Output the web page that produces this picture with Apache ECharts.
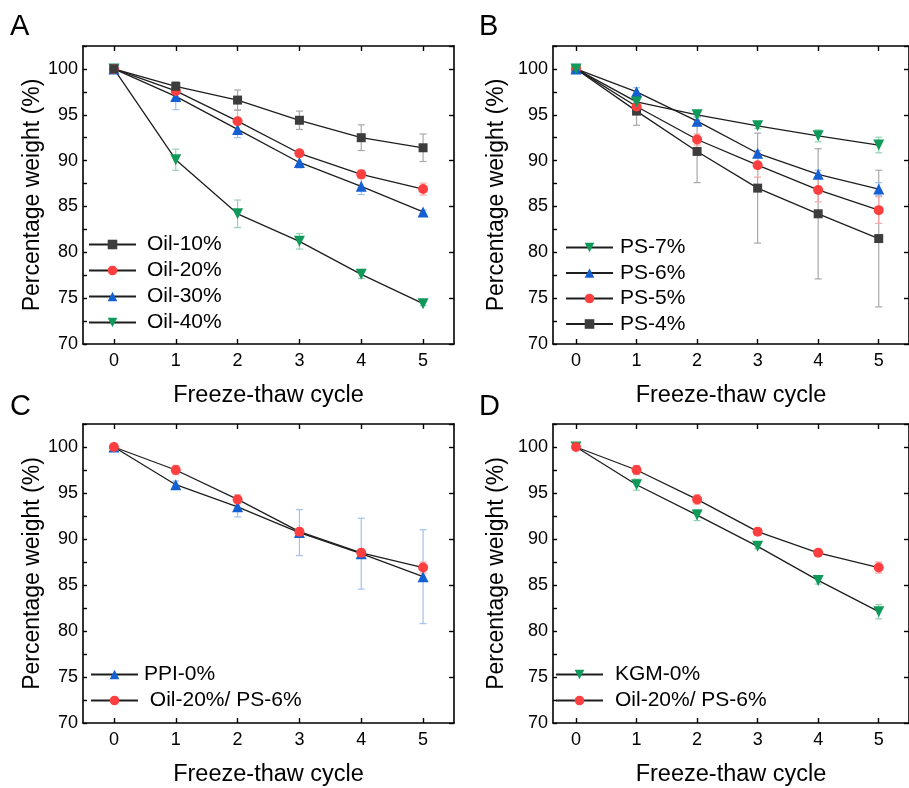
<!DOCTYPE html>
<html>
<head>
<meta charset="utf-8">
<script src="https://cdn.jsdelivr.net/npm/echarts@6/dist/echarts.min.js"></script>
<style>
  html, body { margin: 0; padding: 0; background: #fff; }
  #main { width: 909px; height: 788px; }
</style>
</head>
<body>
<div id="main"></div>
<script>
// freeze-thaw cycles (x)
const cycles = [0, 1, 2, 3, 4, 5];
const xTicks = [0, 1, 2, 3, 4, 5];

// panel A - oil content
const oil10 = [100, 98.1, 96.6, 94.4, 92.5, 91.4];
const oil10Err = [0, 0.5, 1.1, 1.0, 1.4, 1.5];
const oil20 = [100, 97.6, 94.3, 90.8, 88.5, 86.9];
const oil20Err = [0, 0.4, 1.2, 0.3, 0.45, 0.65];
const oil30 = [100, 97.0, 93.4, 89.8, 87.2, 84.4];
const oil30Err = [0, 1.45, 0.9, 0.6, 0.9, 0.2];
const oil40 = [100, 90.1, 84.2, 81.2, 77.6, 74.4];
const oil40Err = [0, 1.15, 1.5, 0.85, 0.45, 0.2];

// panel B - PS content
const ps7 = [100, 96.4, 95.0, 93.8, 92.7, 91.7];
const ps7Err = [0, 0.4, 0.3, 0.3, 0.65, 0.85];
const ps6 = [100, 97.5, 94.3, 90.8, 88.5, 86.9];
const ps6Err = [0, 0.45, 0.5, 0.3, 0.45, 0.7];
const ps5 = [100, 95.9, 92.3, 89.5, 86.8, 84.6];
const ps5Err = [0, 0.3, 0.6, 1.3, 1.3, 1.45];
const ps4 = [100, 95.4, 91.0, 87.0, 84.2, 81.5];
const ps4Err = [0, 1.55, 3.4, 6.0, 7.1, 7.45];

// panel C / D
const ppi0 = [100, 95.9, 93.5, 90.7, 88.4, 85.9];
const ppi0Err = [0, 0.4, 1.1, 2.5, 3.85, 5.1];
const mix = [100, 97.5, 94.3, 90.8, 88.5, 86.9];
const mixErr = [0, 0.5, 0.5, 0.3, 0.3, 0.6];
const kgm0 = [100, 95.9, 92.6, 89.2, 85.5, 82.1];
const kgm0Err = [0, 0.6, 0.6, 0.25, 0.4, 0.78];

const FONT = '"Liberation Sans", Arial, sans-serif';
const downTri = 'path://M0,0 L10,0 L5,8.7 Z';
const look = {
  black: { symbol: 'rect', size: 9, color: '#3d3d3d', err: '#a8a8a8' },
  red: { symbol: 'circle', size: 10, color: '#ff3f3f', err: '#f7a5a5' },
  blue: { symbol: 'triangle', size: 11, color: '#1460d2', err: '#a3c0ee' },
  green: { symbol: downTri, size: 11, color: '#0f9a5a', err: '#95d2b4' }
};

const grids = [
  { left: 83, top: 46, width: 371, height: 298 },
  { left: 553, top: 46, width: 365, height: 298 },
  { left: 83, top: 424, width: 371, height: 299 },
  { left: 553, top: 424, width: 365, height: 299 }
];
const xMins = [-0.5, -0.38, -0.5, -0.38];
const yNameGaps = [38, 45, 38, 45];

const xAxes = [], yAxes = [];
grids.forEach((g, i) => {
  xAxes.push({
    type: 'value', gridIndex: i, min: xMins[i], max: 5.5, position: 'bottom',
    name: 'Freeze-thaw cycle', nameLocation: 'middle', nameGap: 40,
    nameTextStyle: { fontSize: 23.5, fontFamily: FONT, color: '#000' },
    axisLine: { onZero: false, lineStyle: { color: '#000', width: 1.6 } },
    axisTick: { inside: true, length: 5, lineStyle: { width: 1.4 }, customValues: xTicks },
    axisLabel: { fontSize: 18, fontFamily: FONT, color: '#000', margin: 8, customValues: xTicks },
    splitLine: { show: false }
  });
  xAxes.push({
    type: 'value', gridIndex: i, min: xMins[i], max: 5.5, position: 'top',
    axisLine: { onZero: false, lineStyle: { color: '#000', width: 1.6 } },
    axisTick: { inside: true, length: 5, lineStyle: { width: 1.4 }, customValues: xTicks },
    axisLabel: { show: false }, splitLine: { show: false }
  });
  yAxes.push({
    type: 'value', gridIndex: i, min: 70, max: 102.5, interval: 2.5, position: 'left',
    name: 'Percentage weight (%)', nameLocation: 'middle', nameGap: yNameGaps[i],
    nameTextStyle: { fontSize: 23, fontFamily: FONT, color: '#000' },
    axisLine: { show: true, onZero: false, lineStyle: { color: '#000', width: 1.6 } },
    axisTick: { show: true, inside: true, length: 4, lineStyle: { width: 1.4 } },
    axisLabel: {
      fontSize: 18, fontFamily: FONT, color: '#000', margin: 5,
      formatter: v => (v % 5 === 0 ? String(v) : '')
    },
    splitLine: { show: false }
  });
  yAxes.push({
    type: 'value', gridIndex: i, min: 70, max: 102.5, interval: 5, position: 'right',
    axisLine: { show: true, onZero: false, lineStyle: { color: '#000', width: 1.6 } },
    axisTick: { show: true, inside: true, length: 5, lineStyle: { width: 1.4 } },
    axisLabel: { show: false }, splitLine: { show: false }
  });
});

const series = [];
function addSet(panel, name, vals, errs, kind) {
  const st = look[kind];
  const errData = cycles.map((c, i) => [c, vals[i], errs[i]]).filter(d => d[2] > 0);
  series.push({
    type: 'custom', xAxisIndex: panel * 2, yAxisIndex: panel * 2, z: 1,
    silent: true, data: errData,
    renderItem: (params, api) => {
      const x = api.value(0), y = api.value(1), e = api.value(2);
      const hi = api.coord([x, y + e]);
      const lo = api.coord([x, y - e]);
      const w = 3.5;
      const style = { stroke: st.err, lineWidth: 1.2 };
      return {
        type: 'group',
        children: [
          { type: 'line', shape: { x1: hi[0], y1: hi[1], x2: lo[0], y2: lo[1] }, style },
          { type: 'line', shape: { x1: hi[0] - w, y1: hi[1], x2: hi[0] + w, y2: hi[1] }, style },
          { type: 'line', shape: { x1: lo[0] - w, y1: lo[1], x2: lo[0] + w, y2: lo[1] }, style }
        ]
      };
    }
  });
  series.push({
    type: 'line', name, xAxisIndex: panel * 2, yAxisIndex: panel * 2, z: 3,
    data: cycles.map((c, i) => [c, vals[i]]),
    symbol: st.symbol, symbolSize: st.size, showAllSymbol: true,
    itemStyle: { color: st.color },
    lineStyle: { color: '#1e1e1e', width: 1.3 },
    emphasis: { disabled: true }
  });
}

addSet(0, 'Oil-40%', oil40, oil40Err, 'green');
addSet(0, 'Oil-30%', oil30, oil30Err, 'blue');
addSet(0, 'Oil-20%', oil20, oil20Err, 'red');
addSet(0, 'Oil-10%', oil10, oil10Err, 'black');

addSet(1, 'PS-4%', ps4, ps4Err, 'black');
addSet(1, 'PS-5%', ps5, ps5Err, 'red');
addSet(1, 'PS-6%', ps6, ps6Err, 'blue');
addSet(1, 'PS-7%', ps7, ps7Err, 'green');

addSet(2, 'PPI-0%', ppi0, ppi0Err, 'blue');
addSet(2, ' Oil-20%/ PS-6%', mix, mixErr, 'red');

addSet(3, 'KGM-0%', kgm0, kgm0Err, 'green');
addSet(3, 'Oil-20%/ PS-6%', mix, mixErr, 'red');

const legendBase = {
  orient: 'vertical', itemWidth: 47, itemHeight: 12, itemGap: 5,
  selectedMode: false
};
const legendText = pad => ({ fontSize: 21, fontFamily: FONT, color: '#000', padding: [0, 0, 0, pad] });
const legends = [
  Object.assign({}, legendBase, { left: 83, top: 229, textStyle: legendText(6), data: ['Oil-10%', 'Oil-20%', 'Oil-30%', 'Oil-40%'] }),
  Object.assign({}, legendBase, { left: 560, top: 232, itemGap: 4.5, textStyle: legendText(2), data: ['PS-7%', 'PS-6%', 'PS-5%', 'PS-4%'] }),
  Object.assign({}, legendBase, { left: 85, top: 659, textStyle: legendText(1), data: ['PPI-0%', ' Oil-20%/ PS-6%'] }),
  Object.assign({}, legendBase, { left: 550, top: 659, textStyle: legendText(7), data: ['KGM-0%', 'Oil-20%/ PS-6%'] })
];

const letters = [['A', 10, 12], ['B', 479, 12], ['C', 10, 392], ['D', 479, 392]];

const chart = echarts.init(document.getElementById('main'), null, { renderer: 'canvas' });
chart.setOption({
  backgroundColor: '#fff',
  animation: false,
  grid: grids,
  xAxis: xAxes,
  yAxis: yAxes,
  legend: legends,
  graphic: letters.map(([t, x, y]) => ({
    type: 'text', left: x, top: y,
    style: { text: t, fontSize: 29, fontFamily: FONT, fill: '#000' }
  })),
  series
});
</script>
</body>
</html>
